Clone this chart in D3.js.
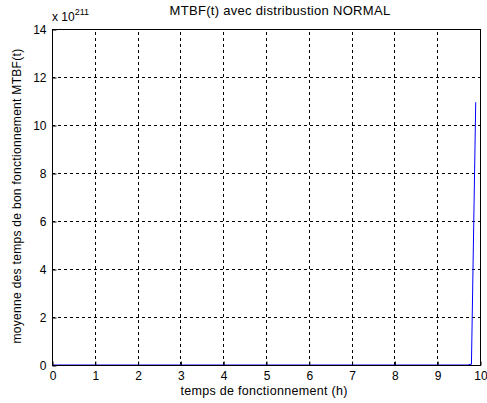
<!DOCTYPE html>
<html>
<head>
<meta charset="utf-8">
<style>
  body { margin: 0; background: #fff; }
  text { font-family: "Liberation Sans", Arial, sans-serif; font-size: 12px; fill: #000; }
</style>
</head>
<body>
<div id="vizDiv"></div>
<script src="https://d3js.org/d3.v7.min.js"></script>
<script>
// data (y values in units of 1e211)
const tVals = [0, 9.7, 9.8, 9.9];
const mtbfVals = [0, 0, 0.03, 10.95];
const xTicks = [0, 1, 2, 3, 4, 5, 6, 7, 8, 9, 10];
const yTicks = [0, 2, 4, 6, 8, 10, 12, 14];

const W = 487, H = 403;
const m = { left: 52, right: 7, top: 29, bottom: 38 };

const svg = d3.select("#vizDiv").append("svg")
  .attr("width", W).attr("height", H);

const x = d3.scaleLinear().domain([0, 10]).range([m.left, W - m.right]);
const y = d3.scaleLinear().domain([0, 14]).range([H - m.bottom, m.top]);

// grid
const g = svg.append("g");
g.selectAll(".gx").data(xTicks.slice(1, -1)).enter().append("line")
  .attr("x1", d => Math.round(x(d)) + 0.5).attr("x2", d => Math.round(x(d)) + 0.5)
  .attr("y1", y(0)).attr("y2", y(14))
  .attr("stroke", "#000").attr("stroke-width", 1).attr("stroke-dasharray", "3,3");
g.selectAll(".gy").data(yTicks.slice(1, -1)).enter().append("line")
  .attr("y1", d => Math.round(y(d)) + 0.5).attr("y2", d => Math.round(y(d)) + 0.5)
  .attr("x1", x(0)).attr("x2", x(10))
  .attr("stroke", "#000").attr("stroke-width", 1).attr("stroke-dasharray", "3,3");

// line
const line = d3.line().x((d, i) => x(tVals[i])).y(d => y(d));
svg.append("path").datum(mtbfVals)
  .attr("d", line).attr("fill", "none")
  .attr("stroke", "#0000ff").attr("stroke-width", 1);

// axes box
svg.append("rect")
  .attr("x", x(0) + 0.5).attr("y", y(14) + 0.5)
  .attr("width", x(10) - x(0)).attr("height", y(0) - y(14))
  .attr("fill", "none").attr("stroke", "#000");

const xAxis = d3.axisBottom(x).tickValues(xTicks).tickSizeInner(-4).tickSizeOuter(0).tickPadding(6);
svg.append("g").attr("transform", `translate(0.5,${y(0) + 0.5})`).call(xAxis)
  .call(s => s.select(".domain").remove())
  .call(s => s.selectAll("text").style("font-size", "12px").style("font-family", null));

const yAxis = d3.axisLeft(y).tickValues(yTicks).tickSizeInner(-4).tickSizeOuter(0).tickPadding(6);
svg.append("g").attr("transform", `translate(${x(0) + 0.5},0.5)`).call(yAxis)
  .call(s => s.select(".domain").remove())
  .call(s => s.selectAll("text").style("font-size", "12px").style("font-family", null));

// exponent label
const ex = svg.append("text").attr("x", 52).attr("y", 21);
ex.append("tspan").text("x 10");
ex.append("tspan").attr("dy", -6).style("font-size", "9px").text("211");

// title & labels
svg.append("text").attr("x", 280).attr("y", 15).attr("text-anchor", "middle")
  .style("font-size", "13px").style("letter-spacing", "0.3px")
  .text("MTBF(t) avec distribustion NORMAL");
svg.append("text").attr("x", 264).attr("y", 395).attr("text-anchor", "middle")
  .style("font-size", "12.5px").style("letter-spacing", "0.3px")
  .text("temps de fonctionnement (h)");
svg.append("text").attr("transform", "translate(21,196) rotate(-90)").attr("text-anchor", "middle")
  .style("font-size", "12px").style("letter-spacing", "0.3px")
  .text("moyenne des temps de bon fonctionnement MTBF(t)");
</script>
</body>
</html>
